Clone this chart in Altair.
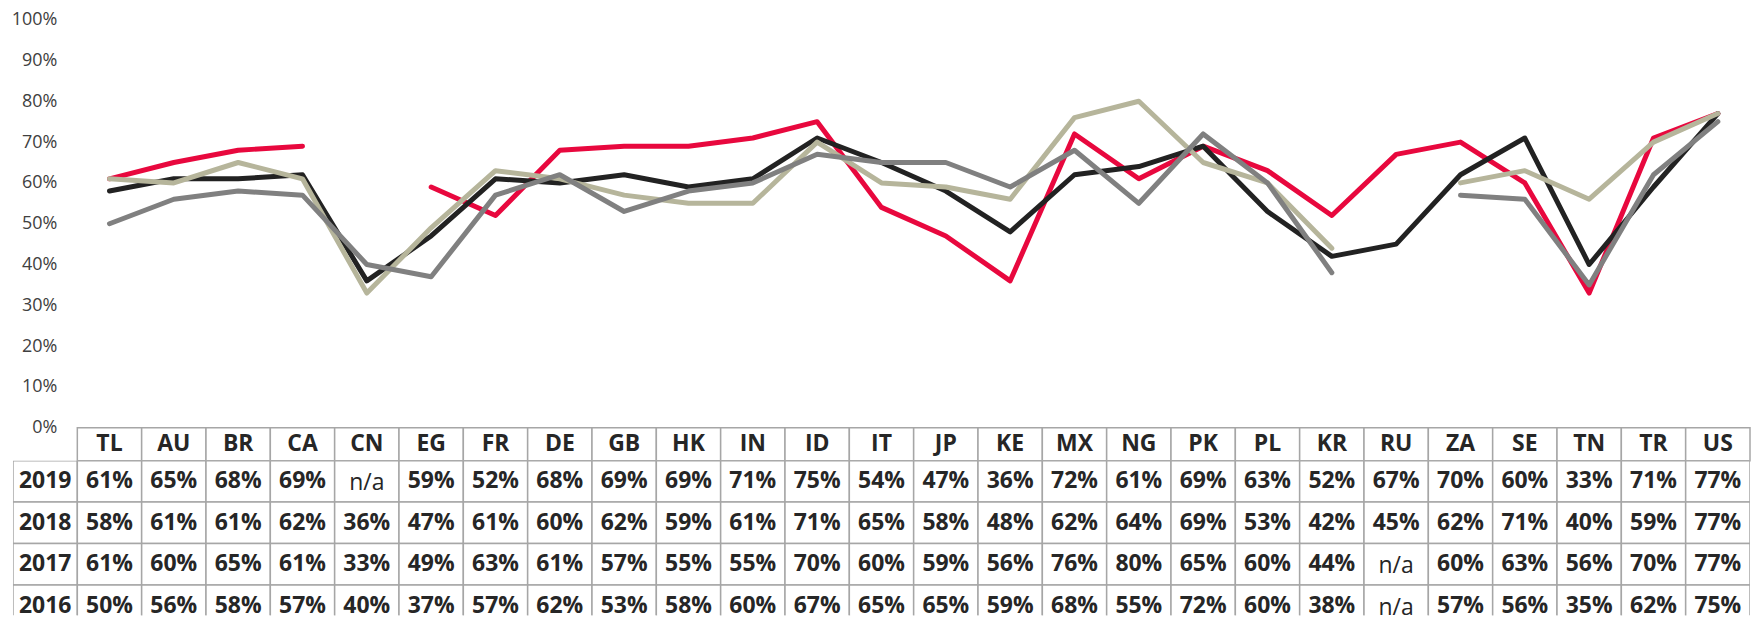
import altair as alt
import pandas as pd

# ---------------- data ----------------
countries = ["TL", "AU", "BR", "CA", "CN", "EG", "FR", "DE", "GB", "HK", "IN", "ID", "IT",
             "JP", "KE", "MX", "NG", "PK", "PL", "KR", "RU", "ZA", "SE", "TN", "TR", "US"]
years = ["2019", "2018", "2017", "2016"]
v2019 = [61, 65, 68, 69, None, 59, 52, 68, 69, 69, 71, 75, 54, 47, 36, 72, 61, 69, 63, 52, 67, 70, 60, 33, 71, 77]
v2018 = [58, 61, 61, 62, 36, 47, 61, 60, 62, 59, 61, 71, 65, 58, 48, 62, 64, 69, 53, 42, 45, 62, 71, 40, 59, 77]
v2017 = [61, 60, 65, 61, 33, 49, 63, 61, 57, 55, 55, 70, 60, 59, 56, 76, 80, 65, 60, 44, None, 60, 63, 56, 70, 77]
v2016 = [50, 56, 58, 57, 40, 37, 57, 62, 53, 58, 60, 67, 65, 65, 59, 68, 55, 72, 60, 38, None, 57, 56, 35, 62, 75]
y_ticks = [0, 0.1, 0.2, 0.3, 0.4, 0.5, 0.6, 0.7, 0.8, 0.9, 1.0]

series = {"2019": v2019, "2018": v2018, "2017": v2017, "2016": v2016}
colors = {"2019": "#E8083E", "2018": "#222222", "2017": "#B6B59B", "2016": "#808080"}

label_col = " "
x_domain = [label_col] + countries

line_rows = []
for yr in years:
    for c, v in zip(countries, series[yr]):
        line_rows.append({"country": c, "year": yr, "value": None if v is None else v / 100})

body_rows = []
for yr in years:
    body_rows.append({"country": label_col, "year": yr, "label": yr, "na": False})
    for c, v in zip(countries, series[yr]):
        body_rows.append({"country": c, "year": yr,
                          "label": "n/a" if v is None else f"{v}%", "na": v is None})

header_rows = [{"country": c} for c in countries]

FONT = "Open Sans"
GRID = "#A6A6A6"
TXT = "#262626"
W = 1741

# ---------------- line chart ----------------
x_point = alt.X("country:N", sort=x_domain,
                scale=alt.Scale(type="point", domain=x_domain, padding=0.5), axis=None)
y_lin = alt.Y("value:Q", scale=alt.Scale(domain=[0, 1], nice=False),
              axis=alt.Axis(values=y_ticks, format=".0%", grid=False, domain=False, ticks=False,
                            labelPadding=0, offset=-44, labelFont=FONT, labelFontSize=18,
                            labelColor="#404040", title=None))

line_layers = []
for yr in years:
    line_layers.append(
        alt.Chart(alt.Data(values=line_rows))
        .transform_filter(alt.datum.year == yr)
        .mark_line(color=colors[yr], strokeWidth=5, strokeCap="round", strokeJoin="round",
                   invalid="break-paths-show-domains")
        .encode(x=x_point, y=y_lin)
    )
lines = alt.layer(*line_layers).properties(width=W, height=409)

# ---------------- table header ----------------
band_x = alt.Scale(type="band", domain=x_domain, paddingInner=0, paddingOuter=0)
hx = alt.X("country:N", scale=band_x, axis=None)
hbase = alt.Chart(alt.Data(values=header_rows))
header = alt.layer(
    hbase.mark_rect(fill="white", stroke=GRID, strokeWidth=1.5).encode(x=hx),
    hbase.mark_text(font=FONT, fontSize=23, fontWeight="bold", color=TXT).encode(
        x=alt.X("country:N", scale=band_x, axis=None, bandPosition=0.5), text="country:N"),
).properties(width=W, height=33)

# ---------------- table body ----------------
band_y = alt.Scale(type="band", domain=years, range=[0, 166], paddingInner=0, paddingOuter=0)
bx = alt.X("country:N", scale=band_x, axis=None, bandPosition=0.5)
by = alt.Y("year:N", scale=band_y, axis=None, bandPosition=0.5)
bbase = alt.Chart(alt.Data(values=body_rows))
body = alt.layer(
    bbase.mark_rect(fill="white", stroke=GRID, strokeWidth=1.5, clip=True).encode(
        x=alt.X("country:N", scale=band_x, axis=None),
        y=alt.Y("year:N", scale=band_y, axis=None)),
    bbase.transform_filter(alt.datum.na == False)
    .mark_text(font=FONT, fontSize=23, fontWeight="bold", color=TXT)
    .encode(x=bx, y=by, text="label:N"),
    bbase.transform_filter(alt.datum.na == True)
    .mark_text(font=FONT, fontSize=23, fontWeight="normal", color=TXT, dy=2)
    .encode(x=bx, y=by, text="label:N"),
).properties(width=W, height=155)

chart = (
    alt.vconcat(lines, header, body, spacing=0, bounds="flush")
    .properties(padding={"left": 3, "top": 2, "right": 0, "bottom": 0})
    .configure_view(stroke=None)
)

chart.save("out.html", embed_options={"renderer": "svg", "actions": False})
